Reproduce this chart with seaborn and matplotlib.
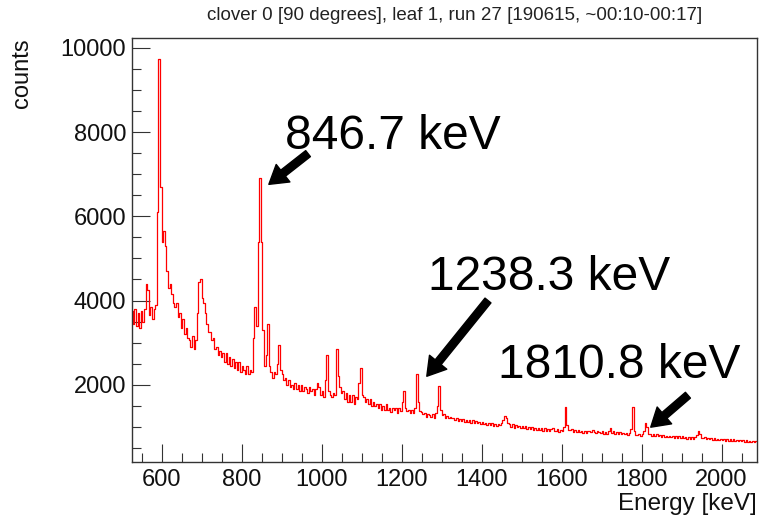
import numpy as np
import pandas as pd
import matplotlib
matplotlib.use("Agg")
import matplotlib.pyplot as plt
from matplotlib.ticker import MultipleLocator, FixedLocator
import seaborn as sns

# ---------------- data (counts per 4 keV bin) ----------------
bin_start_kev = 524
bin_width_kev = 4

counts_524_624 = [3750, 3450, 3800, 3400, 3700, 3350, 3750, 3500, 3800, 4400, 4250, 3650, 3850,
                  3550, 3800, 3900, 6100, 9750, 6700, 5400, 5650, 5300, 4700, 4300, 4400]
counts_624_724 = [4150, 3950, 3850, 3950, 3600, 3700, 3350, 3550, 3200, 3350, 3100, 3050, 2900,
                  3150, 2850, 3050, 3700, 4450, 4500, 4050, 3950, 3700, 3450, 3250, 3250]
counts_724_824 = [3050, 3100, 2850, 2900, 2700, 2800, 2650, 2750, 2550, 2750, 2500, 2650, 2450,
                  2600, 2400, 2550, 2350, 2550, 2300, 2450, 2350, 2250, 2450, 2250, 2350]
counts_824_924 = [2300, 3100, 3850, 3400, 5400, 6900, 5400, 3300, 2450, 2700, 3450, 2450, 2300,
                  2150, 2300, 2250, 2500, 2950, 2350, 2250, 2100, 2150, 2000, 2100, 1950]
counts_924_1024 = [2000, 1900, 2050, 1900, 2000, 1850, 2000, 1850, 1950, 1900, 1800, 1950, 1850,
                   1900, 1750, 1900, 2050, 1950, 1750, 1850, 1700, 2100, 2700, 1850, 1750]
counts_1024_1124 = [1700, 1800, 1750, 2850, 2200, 1950, 1800, 1850, 1650, 1800, 1600, 1750, 1600,
                    1750, 1550, 1700, 1650, 2050, 2400, 1750, 1700, 1600, 1650, 1550, 1650]
counts_1124_1224 = [1500, 1600, 1500, 1550, 1450, 1550, 1400, 1500, 1400, 1550, 1400, 1450, 1350,
                    1450, 1400, 1450, 1330, 1450, 1380, 1600, 1850, 1450, 1380, 1400, 1320]
counts_1224_1324 = [1400, 1330, 1450, 2250, 1600, 1380, 1350, 1300, 1330, 1230, 1300, 1280, 1230,
                    1300, 1220, 1320, 1500, 1980, 1400, 1280, 1300, 1220, 1260, 1200, 1240]
counts_1324_1424 = [1200, 1220, 1150, 1210, 1140, 1190, 1130, 1180, 1110, 1170, 1120, 1150, 1100,
                    1160, 1090, 1130, 1100, 1120, 1070, 1120, 1060, 1100, 1050, 1090, 1040]
counts_1424_1524 = [1080, 1030, 1070, 1020, 1060, 1040, 1080, 1150, 1250, 1200, 1090, 1060, 1000,
                    1060, 980, 1040, 990, 1030, 970, 1020, 960, 1010, 950, 1000, 950]
counts_1524_1624 = [990, 930, 980, 920, 970, 920, 960, 910, 960, 900, 950, 910, 950,
                    970, 900, 910, 940, 880, 930, 890, 1000, 1470, 1050, 930, 930]
counts_1624_1724 = [940, 880, 930, 870, 920, 870, 910, 860, 900, 850, 890, 910, 870,
                    920, 880, 860, 910, 870, 850, 890, 840, 880, 840, 890, 960]
counts_1724_1824 = [860, 890, 840, 880, 830, 870, 820, 860, 820, 850, 810, 860, 950,
                    1470, 900, 810, 800, 820, 780, 830, 900, 1080, 1000, 840, 820]
counts_1824_1924 = [790, 830, 780, 820, 770, 810, 760, 800, 760, 790, 750, 790, 750,
                    780, 740, 780, 740, 770, 730, 770, 730, 760, 720, 760, 720]
counts_1924_2024 = [750, 720, 760, 800, 900, 820, 730, 730, 750, 700, 740, 700, 730,
                    690, 730, 690, 720, 680, 720, 680, 710, 670, 710, 670, 700]
counts_2024_2088 = [660, 700, 660, 690, 650, 690, 650, 680, 640, 680, 640, 670, 630, 670, 630, 660]

xtick_values = [600, 800, 1000, 1200, 1400, 1600, 1800, 2000]
ytick_values = [2000, 4000, 6000, 8000, 10000]

title_text = "clover 0 [90 degrees], leaf 1, run 27 [190615, ~00:10-00:17]"
x_title = "Energy [keV]"
y_title = "counts"

peak_labels = ["846.7 keV", "1238.3 keV", "1810.8 keV"]
peak_arrow_heads = [(868, 6760), (1263, 2200), (1823, 990)]
peak_arrow_tails = [(966, 7490), (1416, 4000), (1916, 1750)]
peak_text_pos = [(908, 7610), (1266, 4245), (1441, 2154)]

# ---------------- assemble ----------------
counts = np.concatenate([counts_524_624, counts_624_724, counts_724_824, counts_824_924,
                         counts_924_1024, counts_1024_1124, counts_1124_1224, counts_1224_1324,
                         counts_1324_1424, counts_1424_1524, counts_1524_1624, counts_1624_1724,
                         counts_1724_1824, counts_1824_1924, counts_1924_2024, counts_2024_2088])
n_bins = len(counts)
bin_end_kev = bin_start_kev + bin_width_kev * n_bins
centers = bin_start_kev + bin_width_kev * (np.arange(n_bins) + 0.5)
df = pd.DataFrame({"energy": centers, "counts": counts.astype(float)})

# ---------------- style ----------------
sns.set_style("ticks")
plt.rcParams["font.family"] = ["Liberation Sans", "DejaVu Sans"]
plt.rcParams["axes.edgecolor"] = "#333333"

W, H = 759, 519
fig = plt.figure(figsize=(W / 100, H / 100), dpi=100)
fig.patch.set_facecolor("white")
ax_l, ax_r, ax_t, ax_b = 131.7, 756.7, 38.3, 461.7
ax = fig.add_axes([ax_l / W, 1 - ax_b / H, (ax_r - ax_l) / W, (ax_b - ax_t) / H])
ax.set_facecolor("white")

sns.histplot(data=df, x="energy", weights="counts", bins=n_bins,
             binrange=(bin_start_kev, bin_end_kev), element="step",
             fill=False, color="#ff0000", linewidth=0.9, ax=ax)

ax.set_xlim(525, 2088)
ax.set_ylim(170, 10230)

ax.xaxis.set_major_locator(FixedLocator(xtick_values))
ax.xaxis.set_minor_locator(MultipleLocator(50))
ax.yaxis.set_major_locator(FixedLocator(ytick_values))
ax.yaxis.set_minor_locator(MultipleLocator(500))
ax.set_xticklabels([str(v) for v in xtick_values])
ax.set_yticklabels([str(v) for v in ytick_values])

ax.tick_params(which="major", direction="in", length=13, width=0.8, color="#333333",
               labelsize=17, labelcolor="#111111", top=False, right=False)
ax.tick_params(which="minor", direction="in", length=6.5, width=0.8, color="#333333",
               top=False, right=False)
ax.tick_params(axis="x", which="major", pad=5)
ax.tick_params(axis="y", which="major", pad=4)

for s in ax.spines.values():
    s.set_linewidth(1.0)
    s.set_color("#333333")
    s.set_visible(True)

ax.set_xlabel(x_title, fontsize=17.5, color="#111111", loc="right")
ax.xaxis.set_label_coords(1.0, -0.075)
ax.set_ylabel(y_title, fontsize=17, color="#111111", loc="top")
ax.yaxis.set_label_coords(-0.158, 1.0)

fig.text(455 / W, 1 - 15 / H, title_text, ha="center", va="center", fontsize=13.5,
         color="#222222")

for label, head, tail, tpos in zip(peak_labels, peak_arrow_heads, peak_arrow_tails, peak_text_pos):
    ax.annotate("", xy=head, xytext=tail, xycoords="data", textcoords="data",
                arrowprops=dict(facecolor="black", edgecolor="black", width=5.5,
                                headwidth=16, headlength=13, shrink=0.0))
    ax.text(tpos[0], tpos[1], label, ha="left", va="baseline", fontsize=34.5, color="black")

fig.savefig("out.png", dpi=100, facecolor="white")
